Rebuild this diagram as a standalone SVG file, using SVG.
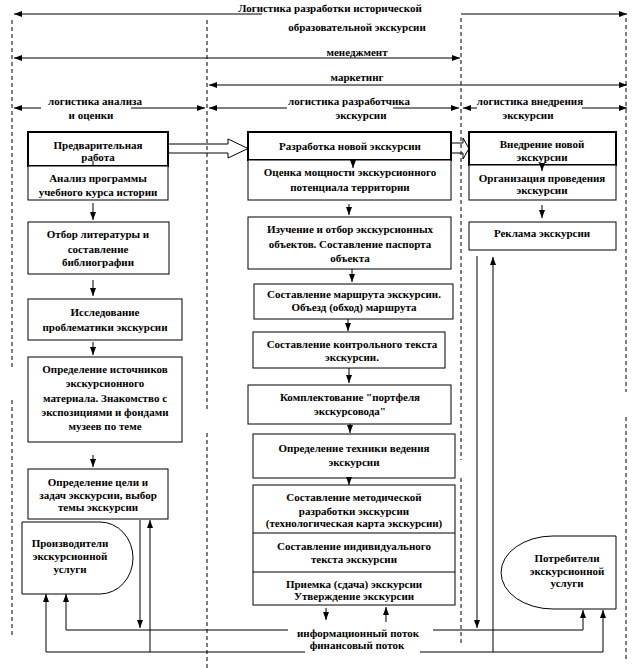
<svg xmlns="http://www.w3.org/2000/svg" width="641" height="668" viewBox="0 0 641 668">
<defs>
<style>
.box{fill:#fff;stroke:#000;stroke-width:1}
.hdr{fill:#fff;stroke:#000;stroke-width:2}
.t{font-family:"Liberation Serif","Times New Roman",serif;font-weight:bold;font-size:11px;text-anchor:middle;fill:#000}
.ln{stroke:#000;stroke-width:1;fill:none}
.dash{stroke:#000;stroke-width:1;stroke-dasharray:4,3;fill:none}
.arr{stroke:#000;stroke-width:1;fill:none;marker-end:url(#ah)}
.arr2{stroke:#000;stroke-width:1;fill:none;marker-end:url(#ah);marker-start:url(#ah)}
</style>
<marker id="ah" viewBox="0 0 8 6" refX="8" refY="3" markerWidth="8" markerHeight="6" markerUnits="userSpaceOnUse" orient="auto-start-reverse">
<path d="M0,0 L8,3 L0,6 Z" fill="#000"/>
</marker>
</defs>
<rect width="641" height="668" fill="#fff"/>

<g id="scale-arrows">
<path class="ln" d="M14,14 H262" marker-start="url(#ah)"/>
<path class="arr" d="M461,14 H627"/>
<text class="t" x="330" y="12">Логистика разработки исторической</text>
<text class="t" x="357" y="31">образовательной экскурсии</text>
<path class="arr2" d="M14,58 H460"/>
<text class="t" x="357" y="56">менеджмент</text>
<path class="arr2" d="M209,85 H627"/>
<text class="t" x="357" y="81">маркетинг</text>
<path class="ln" d="M14,108 H41" marker-start="url(#ah)"/>
<path class="arr" d="M131,108 H205"/>
<text class="t" x="95" y="105">логистика анализа</text>
<text class="t" x="91" y="119">и оценки</text>
<path class="ln" d="M209,108 H287" marker-start="url(#ah)"/>
<path class="arr" d="M393,108 H459"/>
<text class="t" x="349" y="105">логистика разработчика</text>
<text class="t" x="361" y="119">экскурсии</text>
<path class="ln" d="M463,108 H477" marker-start="url(#ah)"/>
<path class="arr" d="M582,108 H627"/>
<text class="t" x="530" y="105">логистика внедрения</text>
<text class="t" x="528" y="119">экскурсии</text>
</g>

<g id="block-arrows">
<path d="M169,144 H228 V139 L248,148.5 L228,158 V153 H169" fill="#fff" stroke="#000" stroke-width="1"/>
<path d="M451,143 H463 V138 L469,148.5 L463,159 V153 H451" fill="#fff" stroke="#000" stroke-width="1"/>
</g>

<g id="dividers">
<path class="dash" d="M12,20 V370 M12,400 V635"/>
<path class="dash" d="M207,20 V410 M207,433 V668"/>
<path class="dash" d="M461,18 V460 M461,478 V643"/>
<path class="dash" d="M626,18 V392 M626,417 V660"/>
</g>

<g id="left-col">
<g id="n-prelim"><rect class="hdr" x="28" y="132" width="140" height="34"/>
<text class="t" x="98" y="149">Предварительная</text><text class="t" x="98" y="161">работа</text></g>
<g id="n-analysis"><rect class="box" x="28" y="166" width="140" height="34"/>
<text class="t" x="98" y="182">Анализ программы</text><text class="t" x="98" y="196">учебного курса истории</text></g>
<g id="n-literature"><rect class="box" x="28" y="222" width="141" height="52"/>
<text class="t" x="98" y="238">Отбор литературы и</text><text class="t" x="98" y="253">составление</text><text class="t" x="98" y="266">библиографии</text></g>
<g id="n-research"><rect class="box" x="28" y="299" width="154" height="41"/>
<text class="t" x="105" y="316">Исследование</text><text class="t" x="105" y="331">проблематики экскурсии</text></g>
<g id="n-sources"><rect class="box" x="28" y="357" width="154" height="85"/>
<text class="t" x="105" y="373">Определение источников</text><text class="t" x="105" y="387">экскурсионного</text><text class="t" x="105" y="402">материала. Знакомство с</text><text class="t" x="105" y="416">экспозициями и фондами</text><text class="t" x="105" y="430">музеев по теме</text></g>
<g id="n-goal"><rect class="box" x="28" y="469" width="140" height="50"/>
<text class="t" x="98" y="486">Определение цели и</text><text class="t" x="98" y="499">задач экскурсии, выбор</text><text class="t" x="98" y="511">темы экскурсии</text></g>
<g id="n-producers"><path class="box" d="M22,522 H100 A33,36 0 0 1 100,594 H22 Z"/>
<text class="t" x="70" y="547">Производители</text><text class="t" x="70" y="560">экскурсионной</text><text class="t" x="70" y="573">услуги</text></g>
</g>

<g id="mid-col">
<g id="n-newdev"><rect class="hdr" x="248" y="132" width="203" height="28"/>
<text class="t" x="350" y="150">Разработка новой экскурсии</text></g>
<g id="n-potential"><rect class="box" x="248" y="160" width="203" height="40"/>
<text class="t" x="350" y="176">Оценка мощности экскурсионного</text><text class="t" x="350" y="191">потенциала территории</text></g>
<g id="n-objects"><rect class="box" x="248" y="217" width="203" height="52"/>
<text class="t" x="350" y="233">Изучение и отбор экскурсионных</text><text class="t" x="350" y="248">объектов. Составление паспорта</text><text class="t" x="350" y="262">объекта</text></g>
<g id="n-route"><rect class="box" x="254" y="284" width="199" height="35"/>
<text class="t" x="354" y="298">Составление маршрута экскурсии.</text><text class="t" x="354" y="311">Объезд (обход) маршрута</text></g>
<g id="n-control"><rect class="box" x="253" y="332" width="192" height="36"/>
<text class="t" x="352" y="348">Составление контрольного текста</text><text class="t" x="352" y="361">экскурсии.</text></g>
<g id="n-portfolio"><rect class="box" x="248" y="385" width="203" height="39"/>
<text class="t" x="350" y="401">Комплектование "портфеля</text><text class="t" x="350" y="415">экскурсовода"</text></g>
<g id="n-technique"><rect class="box" x="253" y="434" width="202" height="44"/>
<text class="t" x="354" y="452">Определение техники ведения</text><text class="t" x="354" y="466">экскурсии</text></g>
<g id="n-method"><rect class="box" x="253" y="485" width="202" height="120"/>
<path class="ln" d="M253,533 H455 M253,572 H455"/>
<text class="t" x="354" y="501">Составление методической</text><text class="t" x="354" y="515">разработки экскурсии</text><text class="t" x="354" y="527">(технологическая карта экскурсии)</text>
<text class="t" x="354" y="550">Составление индивидуального</text><text class="t" x="354" y="563">текста экскурсии</text>
<text class="t" x="354" y="588">Приемка (сдача) экскурсии</text><text class="t" x="354" y="600">Утверждение экскурсии</text></g>
</g>

<g id="right-col">
<g id="n-impl"><rect class="hdr" x="469" y="132" width="147" height="33"/>
<text class="t" x="542" y="148">Внедрение новой</text><text class="t" x="542" y="161">экскурсии</text></g>
<g id="n-organize"><rect class="box" x="469" y="165" width="147" height="35"/>
<text class="t" x="542" y="182">Организация проведения</text><text class="t" x="542" y="194">экскурсии</text></g>
<g id="n-ad"><rect class="box" x="469" y="222" width="147" height="28"/>
<text class="t" x="542" y="237">Реклама экскурсии</text></g>
<g id="n-consumers"><path class="box" d="M616,536 H553 A52,36.5 0 0 0 553,609 H616 Z"/>
<text class="t" x="567" y="562">Потребители</text><text class="t" x="567" y="575">экскурсионной</text><text class="t" x="567" y="587">услуги</text></g>
</g>

<g id="connectors">
<path class="ln" d="M93,161 V166"/>
<path class="arr" d="M93,203 V220"/>
<path class="arr" d="M93,280 V296"/>
<path class="arr" d="M93,342 V355"/>
<path class="arr" d="M93,455 V467"/>
<path class="arr" d="M353,160 V168"/>
<path class="arr" d="M349,204 V215"/>
<path class="arr" d="M352,269 V282"/>
<path class="arr" d="M348,319 V331"/>
<path class="arr" d="M349,368 V383"/>
<path class="arr" d="M350,424 V433"/>
<path class="arr" d="M349,478 V485"/>
<path class="arr" d="M542,165 V171"/>
<path class="arr" d="M542,205 V218"/>
<path class="arr" d="M326,608 V620"/>
<path class="arr" d="M386,622 V607"/>
<path class="arr" d="M140,520 V628"/>
<path class="arr" d="M150,652 V520"/>
<path class="arr" d="M46,652 V594"/>
<path class="arr" d="M66,630 V594"/>
<path class="ln" d="M66,630 H288 M46,652 H305"/>
<path class="arr" d="M433,630 H583 V610"/>
<path class="arr" d="M420,652 H603 V610"/>
<path class="arr" d="M477,256 V628"/>
<path class="arr" d="M493,652 V257"/>
<text class="t" x="358" y="637">информационный поток</text>
<text class="t" x="357" y="649">финансовый поток</text>
</g>
</svg>
